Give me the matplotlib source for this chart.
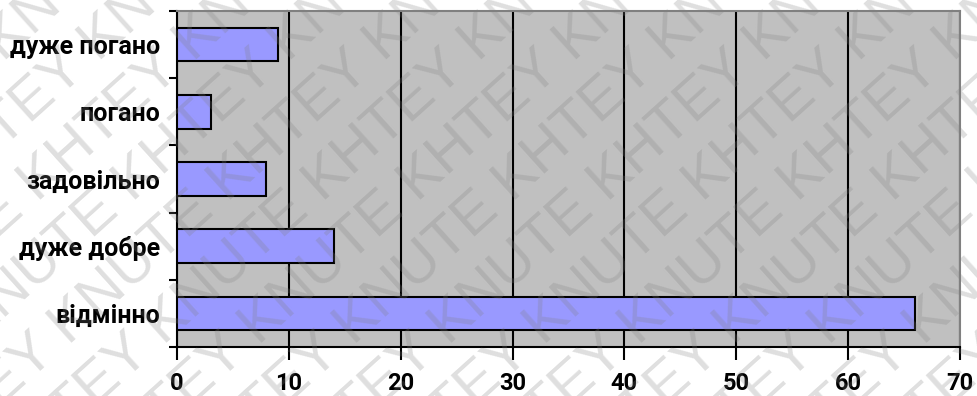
import numpy as np
import matplotlib.pyplot as plt

plt.rcParams['font.family'] = ['Roboto', 'DejaVu Sans']

categories = ['відмінно', 'дуже добре', 'задовільно', 'погано', 'дуже погано']
values = [66, 14, 8, 3, 9]
x_ticks = [0, 10, 20, 30, 40, 50, 60, 70]

x_label_size = 17
y_label_size = 18
bar_color = '#9999FF'

fig = plt.figure(figsize=(9.78, 3.96), dpi=100)
ax = fig.add_axes([177/978, 1-347/396, 783/978, 336/396])
ax.set_facecolor('#C0C0C0')

y = np.arange(len(categories))
ax.barh(y, values, height=0.5, color=bar_color, edgecolor='black', linewidth=1.5, zorder=3)

ax.set_xlim(0, 70)
ax.set_ylim(-0.5, len(categories) - 0.5)
ax.set_xticks(x_ticks)
ax.set_xticklabels([str(t) for t in x_ticks], fontsize=x_label_size, fontweight='bold')
ax.xaxis.grid(True, color='black', linewidth=1.5, zorder=1)
ax.set_axisbelow(True)

# category boundaries get the tick marks, labels sit on the centres
ax.set_yticks(np.arange(-0.5, len(categories), 1.0))
ax.set_yticklabels([])
ax.set_yticks(y, minor=True)
ax.set_yticklabels(categories, minor=True, fontsize=y_label_size, fontweight='bold')
ax.tick_params(axis='y', which='major', length=6, width=1.5, direction='out')
ax.tick_params(axis='y', which='minor', length=0, pad=12)
ax.tick_params(axis='x', length=9, width=1.5, direction='out', pad=9)

for s in ['left', 'bottom']:
    ax.spines[s].set_color('black')
    ax.spines[s].set_linewidth(1.5)
for s in ['top', 'right']:
    ax.spines[s].set_color('#808080')
    ax.spines[s].set_linewidth(1.5)

# diagonal watermark over the whole picture
wm = 'KNUTE KHTEY KNUTE KHTEY KNUTE KHTEY'
for k in range(-4, 15):
    fig.text((k * 95 + 20) / 978, 0.5, wm, fontsize=42, rotation=42, rotation_mode='anchor',
             color='#808080', alpha=0.25, ha='center', va='center', zorder=10,
             family='Liberation Sans')

fig.savefig('out.png', dpi=100)
